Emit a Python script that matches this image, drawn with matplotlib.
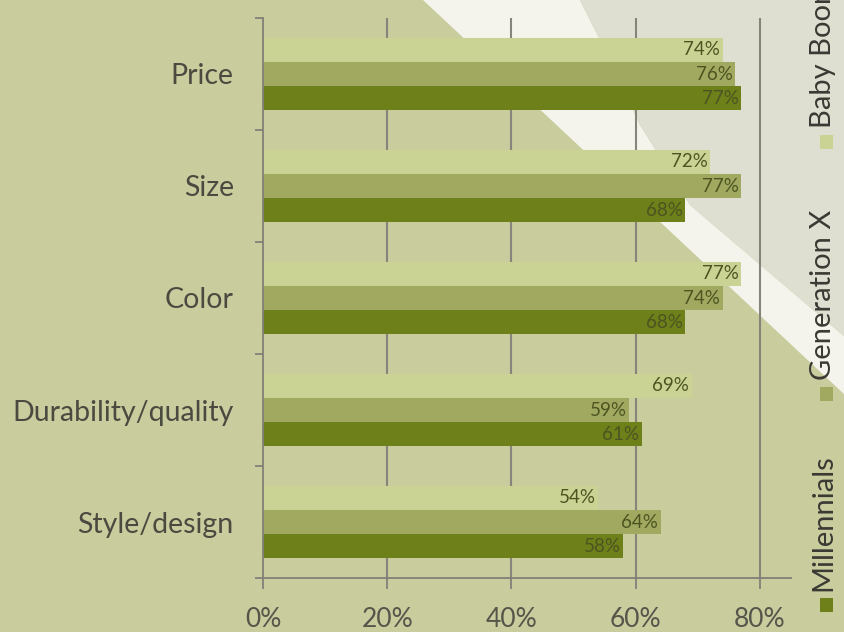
import numpy as np
import matplotlib
matplotlib.use("Agg")
import matplotlib.pyplot as plt
from matplotlib.patches import Polygon

plt.rcParams["font.family"] = ["Lato", "DejaVu Sans"]

CATS = ["Price", "Size", "Color", "Durability/quality", "Style/design"]
SERIES = ["Baby Boomers", "Generation X", "Millennials"]
BOOMERS = [74, 72, 77, 69, 54]
GENX = [76, 77, 74, 59, 64]
MILLENNIALS = [77, 68, 68, 61, 58]
XTICKS = [0, 20, 40, 60, 80]

COLORS = ["#cbd394", "#a0a95f", "#6d8019"]
BG = "#c9cc9d"; WHITE = "#f4f4ec"; GREY = "#deded1"
W, H = 845, 632

fig = plt.figure(figsize=(W / 100, H / 100), dpi=100, facecolor=BG)


def px(pts):
    return [(x / W, 1 - y / H) for x, y in pts]


# diagonal background decoration (behind the axes)
fig.patches.append(Polygon(px([(423, 0), (580, 0), (600, 40), (640, 125), (690, 205),
                               (845, 337), (845, 395)]), closed=True,
                           transform=fig.transFigure, fc=WHITE, ec="none", zorder=-2))
fig.patches.append(Polygon(px([(580, 0), (845, 0), (845, 337), (690, 205), (640, 125),
                               (600, 40)]), closed=True,
                           transform=fig.transFigure, fc=GREY, ec="none", zorder=-2))

ax = fig.add_axes([263 / W, 1 - 578 / H, 528 / W, 560 / H])
ax.set_facecolor("none")

y = np.arange(len(CATS)); h = 0.215
for off, vals, c in zip([-h, 0, h], [BOOMERS, GENX, MILLENNIALS], COLORS):
    bars = ax.barh(y + off, vals, h, color=c, zorder=2)
    for b, v in zip(bars, vals):
        ax.text(v - 0.4, b.get_y() + h / 2, f"{v}%", ha="right", va="center",
                fontsize=13.5, color="#4d5422", zorder=3)

ax.set_xlim(0, 85)
ax.set_ylim(len(CATS) - 0.5, -0.5)
ax.set_xticks(XTICKS)
ax.set_xticklabels([f"{t}%" for t in XTICKS], fontsize=19, color="#55554a")
ax.tick_params(axis="x", length=8, width=1.3, color="#808078", pad=13)
ax.set_yticks(np.arange(len(CATS) + 1) - 0.5)
ax.set_yticklabels([])
ax.tick_params(axis="y", length=6, width=1.3, color="#808078")
ax.set_yticks(y, minor=True)
ax.set_yticklabels(CATS, minor=True, fontsize=20.5, color="#4a4a40")
ax.tick_params(axis="y", which="minor", length=0, pad=21)
for t in XTICKS[1:]:
    ax.axvline(t, color="#85857c", lw=1.5, zorder=1)
for s in ["top", "right"]:
    ax.spines[s].set_visible(False)
for s in ["left", "bottom"]:
    ax.spines[s].set_color("#808078"); ax.spines[s].set_linewidth(1.3)

# legend, rotated, running off the top edge
leg = [(SERIES[2], 605, 591), (SERIES[1], 394, 380), (SERIES[0], 142, 128)]
for (name, sq, ty), c in zip(leg, [COLORS[2], COLORS[1], COLORS[0]]):
    fig.patches.append(plt.Rectangle((820 / W, 1 - (sq + 7) / H), 13 / W, 14 / H,
                                     transform=fig.transFigure, fc=c, ec="none"))
    fig.text(823 / W, 1 - ty / H, name, rotation=90, ha="center", va="bottom",
             fontsize=21, color="#3a3a34")

fig.savefig("out.png", dpi=100, facecolor=BG)
